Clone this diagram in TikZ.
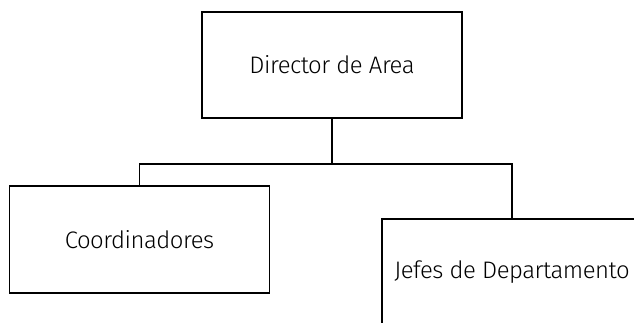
\documentclass[tikz,border=0pt]{standalone}
\usepackage{fontspec}
\setmainfont{Fira Sans Light}
\usetikzlibrary{calc}
\tikzstyle{box} = [draw, line width=1pt, minimum width=5.2cm, minimum height=2.13cm, inner sep=0mm, font=\fontsize{13.6}{16}\selectfont]
\tikzstyle{l} = [line width=1pt]

\begin{document}
\begin{tikzpicture}
    \clip (0, 0) rectangle (12.68, 6.44);
    \useasboundingbox (0, 0) rectangle (12.68, 6.44);
    %\draw[help lines] (0, 0) grid (12, 6);
    \node[box] (dir) at (6.64, 5.14) {\addfontfeature{LetterSpace=-2}Director de Area};
    \node[box] (coord) at (2.79, 1.65) {\addfontfeature{LetterSpace=-2}Coordinadores};
    \node[box] (jefes) at (10.24, 1.0) {\addfontfeature{LetterSpace=-2}Jefes de Departamento};

    \coordinate (split) at ($(dir.south) + (0, -0.9)$);
    \draw[l] (dir.south) -- (split);
    \draw[l] (split) -| (coord.north);
    \draw[l] (split) -| (jefes.north);
\end{tikzpicture}
\end{document}
